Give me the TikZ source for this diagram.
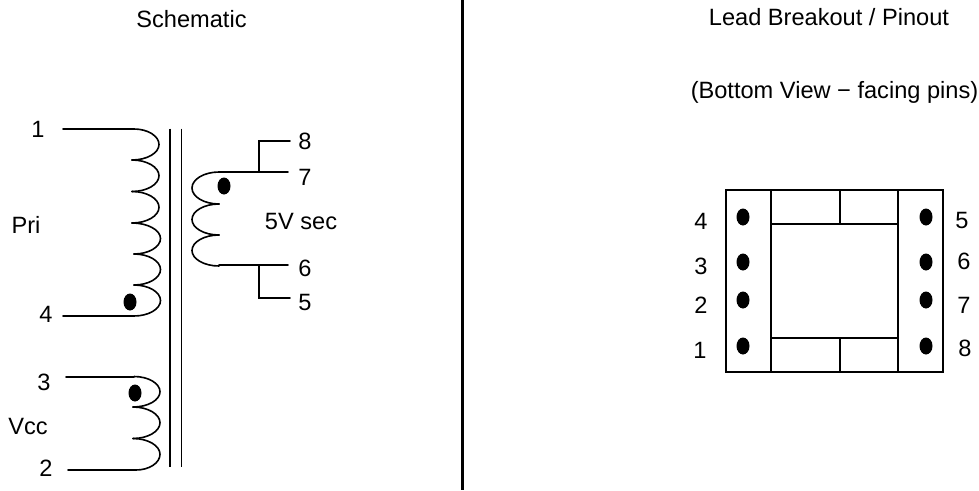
\documentclass[tikz,border=0pt]{standalone}
\usepackage{fontspec}
\setmainfont{Liberation Sans}
\newcommand\coilR[5]{% x0 y0 x1 y1 xr : bulge to the right
  \pgfmathsetmacro\cA{#1+0.55*(#5-#1)}\pgfmathsetmacro\cB{#3+0.55*(#5-#3)}
  \pgfmathsetmacro\ym{(#2+#4)/2}\pgfmathsetmacro\hh{0.55*(#4-#2)/2}
  \pgfmathsetmacro\cC{\ym-\hh}\pgfmathsetmacro\cD{\ym+\hh}
  \draw[wire] (#1,#2) .. controls (\cA,#2) and (#5,\cC) .. (#5,\ym) .. controls (#5,\cD) and (\cB,#4) .. (#3,#4);}
\tikzset{
  wire/.style={line width=1.6pt,black,line cap=round},
  corebar/.style={line width=1.6pt,black},
  divider/.style={line width=3.6pt,black},
  box/.style={line width=1.7pt,black},
  pindot/.style={fill=black,draw=none},
  lab/.style={font=\fontsize{23.6pt}{26pt}\selectfont,inner sep=0pt,anchor=center},
}
\begin{document}
\begin{tikzpicture}[x=1pt,y=-1pt]
\useasboundingbox (0,0) rectangle (979,490);
% titles
\node[lab] (tS) at (191.5,19) {Schematic};
\node[lab] (tL) at (829,17) {Lead Breakout / Pinout};
\node[lab] (tB) at (834.5,92) {(Bottom View − facing pins)};
\draw[divider] (462.5,0) coordinate (d0) -- (462.5,490) coordinate (d1);
% core
\draw[corebar] (170,128.5) -- (170,467);
\draw[corebar] (181.5,128.5) -- (181.5,467);
% primary
\coordinate (p1) at (63,129);\coordinate (c1) at (134,129);
\coordinate (p4) at (63,316);\coordinate (c4) at (134,316);
\draw[wire] (p1) -- (c1);
\draw[wire] (p4) -- (c4);
\coilR{134}{129}{132}{160}{159}
\coilR{132}{160}{132}{191.5}{159}
\coilR{132}{191.5}{132}{223}{159}
\coilR{132}{223}{134}{254}{160.5}
\coilR{134}{254}{134}{285}{160.5}
\coilR{134}{285}{134}{316}{160.5}
% aux
\coordinate (p3) at (66,377);\coordinate (c3) at (134,377);
\coordinate (p2) at (68,470);\coordinate (c2) at (136,470);
\draw[wire] (p3) -- (c3);
\draw[wire] (p2) -- (c2);
\coilR{134}{376.5}{133}{407}{160}
\coilR{133}{407}{133}{438.5}{160}
\coilR{133}{438.5}{136}{470}{160}
% secondary
\coordinate (s7a) at (219,172);\coordinate (s7) at (288,172);
\coordinate (s6a) at (219,265);\coordinate (s6) at (288,265);
\coordinate (j7) at (259,172);\coordinate (j8) at (259,141);\coordinate (s8) at (290,141);
\coordinate (j6) at (259,265);\coordinate (j5) at (259,298);\coordinate (s5) at (290,298);
\draw[wire] (s7a) -- (s7);
\draw[wire] (s6a) -- (s6);
\draw[wire] (j7) -- (j8) -- (s8);
\draw[wire] (j6) -- (j5) -- (s5);
\coilR{219}{172}{219}{204}{192}
\coilR{219}{204}{219}{235}{192}
\coilR{219}{235}{219}{266}{192}
% dots
\fill[pindot] (130,302) ellipse[x radius=6.5,y radius=8.5];
\fill[pindot] (135,393) ellipse[x radius=6.5,y radius=8.5];
\fill[pindot] (224,186) ellipse[x radius=6.5,y radius=8.5];
% schematic labels
\node[lab] (n1) at (38,129) {1};
\node[lab] (n4) at (46,314) {4};
\node[lab] (n3) at (44,382) {3};
\node[lab] (n2) at (46,468) {2};
\node[lab] (nPri) at (26,225) {Pri};
\node[lab] (nVcc) at (28,426) {Vcc};
\node[lab] (n8) at (305,141) {8};
\node[lab] (n7) at (305,177) {7};
\node[lab] (n5V) at (301,221) {5V sec};
\node[lab] (n6) at (305,268) {6};
\node[lab] (n5) at (305,302) {5};
% pinout
\draw[box] (726,190) rectangle (943,372);
\draw[box] (771,190) -- (771,372);
\draw[box] (898,190) -- (898,372);
\draw[box] (771,224) -- (898,224);
\draw[box] (771,338) -- (898,338);
\draw[box] (840,190) -- (840,224);
\draw[box] (840,338) -- (840,372);
\foreach \px in {743,926}\foreach \py in {217,262,300,346}
  \fill[pindot] (\px,\py) ellipse[x radius=6.5,y radius=8.5];
\node[lab] (L4) at (701,221) {4};
\node[lab] (L3) at (701,266) {3};
\node[lab] (L2) at (701,305) {2};
\node[lab] (L1) at (700,350) {1};
\node[lab] (R5) at (962,220) {5};
\node[lab] (R6) at (964,261) {6};
\node[lab] (R7) at (964,305) {7};
\node[lab] (R8) at (965,348) {8};
\end{tikzpicture}
\end{document}
